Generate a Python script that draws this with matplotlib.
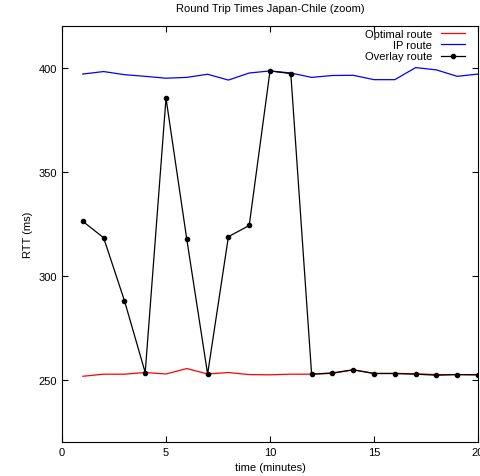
import matplotlib
matplotlib.use("Agg")
import matplotlib.pyplot as plt

plt.rcParams['font.family'] = ['Liberation Sans', 'DejaVu Sans']

minutes = list(range(1, 21))
optimal = [251.6, 252.6, 252.6, 253.4, 252.7, 255.3, 252.7, 253.4, 252.4, 252.3,
           252.6, 252.6, 253.0, 254.7, 253.0, 253.0, 252.8, 252.4, 252.4, 252.3]
ip_route = [396.9, 398.1, 396.6, 395.8, 394.9, 395.3, 396.8, 394.0, 397.4, 398.4,
            397.4, 395.3, 396.2, 396.3, 394.2, 394.2, 400.0, 398.9, 395.8, 396.9]
overlay = [326.1, 318.2, 288.0, 253.4, 385.3, 317.4, 252.7, 318.7, 324.1, 398.4,
           397.1, 252.6, 253.2, 254.7, 252.9, 252.9, 252.6, 252.1, 252.4, 252.3]

fig = plt.figure(figsize=(4.81, 4.77), dpi=100)
ax = fig.add_axes([0.1289, 0.0713, 0.8649, 0.8721])

ax.plot(minutes, optimal, color='red', linewidth=0.9, label='Optimal route')
ax.plot(minutes, ip_route, color='blue', linewidth=0.9, label='IP route')
ax.plot(minutes, overlay, color='black', linewidth=0.9, marker='o', markersize=3,
        label='Overlay route')

ax.set_xlim(0, 20)
ax.set_ylim(220, 420)
ax.set_xticks([0, 5, 10, 15, 20])
ax.set_yticks([250, 300, 350, 400])
ax.tick_params(direction='in', top=True, right=True, labelsize=8, length=4)
ax.set_xlabel('time (minutes)', fontsize=8)
ax.set_ylabel('RTT (ms)', fontsize=8)
ax.set_title('Round Trip Times Japan-Chile (zoom)', fontsize=8, pad=11)

leg = ax.legend(loc='upper right', bbox_to_anchor=(0.972, 0.995), frameon=False,
                fontsize=8, markerfirst=False, handlelength=2.2, labelspacing=0.1,
                borderaxespad=0, borderpad=0.1)
for t in leg.get_texts():
    t.set_ha('right')

fig.savefig('out.png', dpi=100)
